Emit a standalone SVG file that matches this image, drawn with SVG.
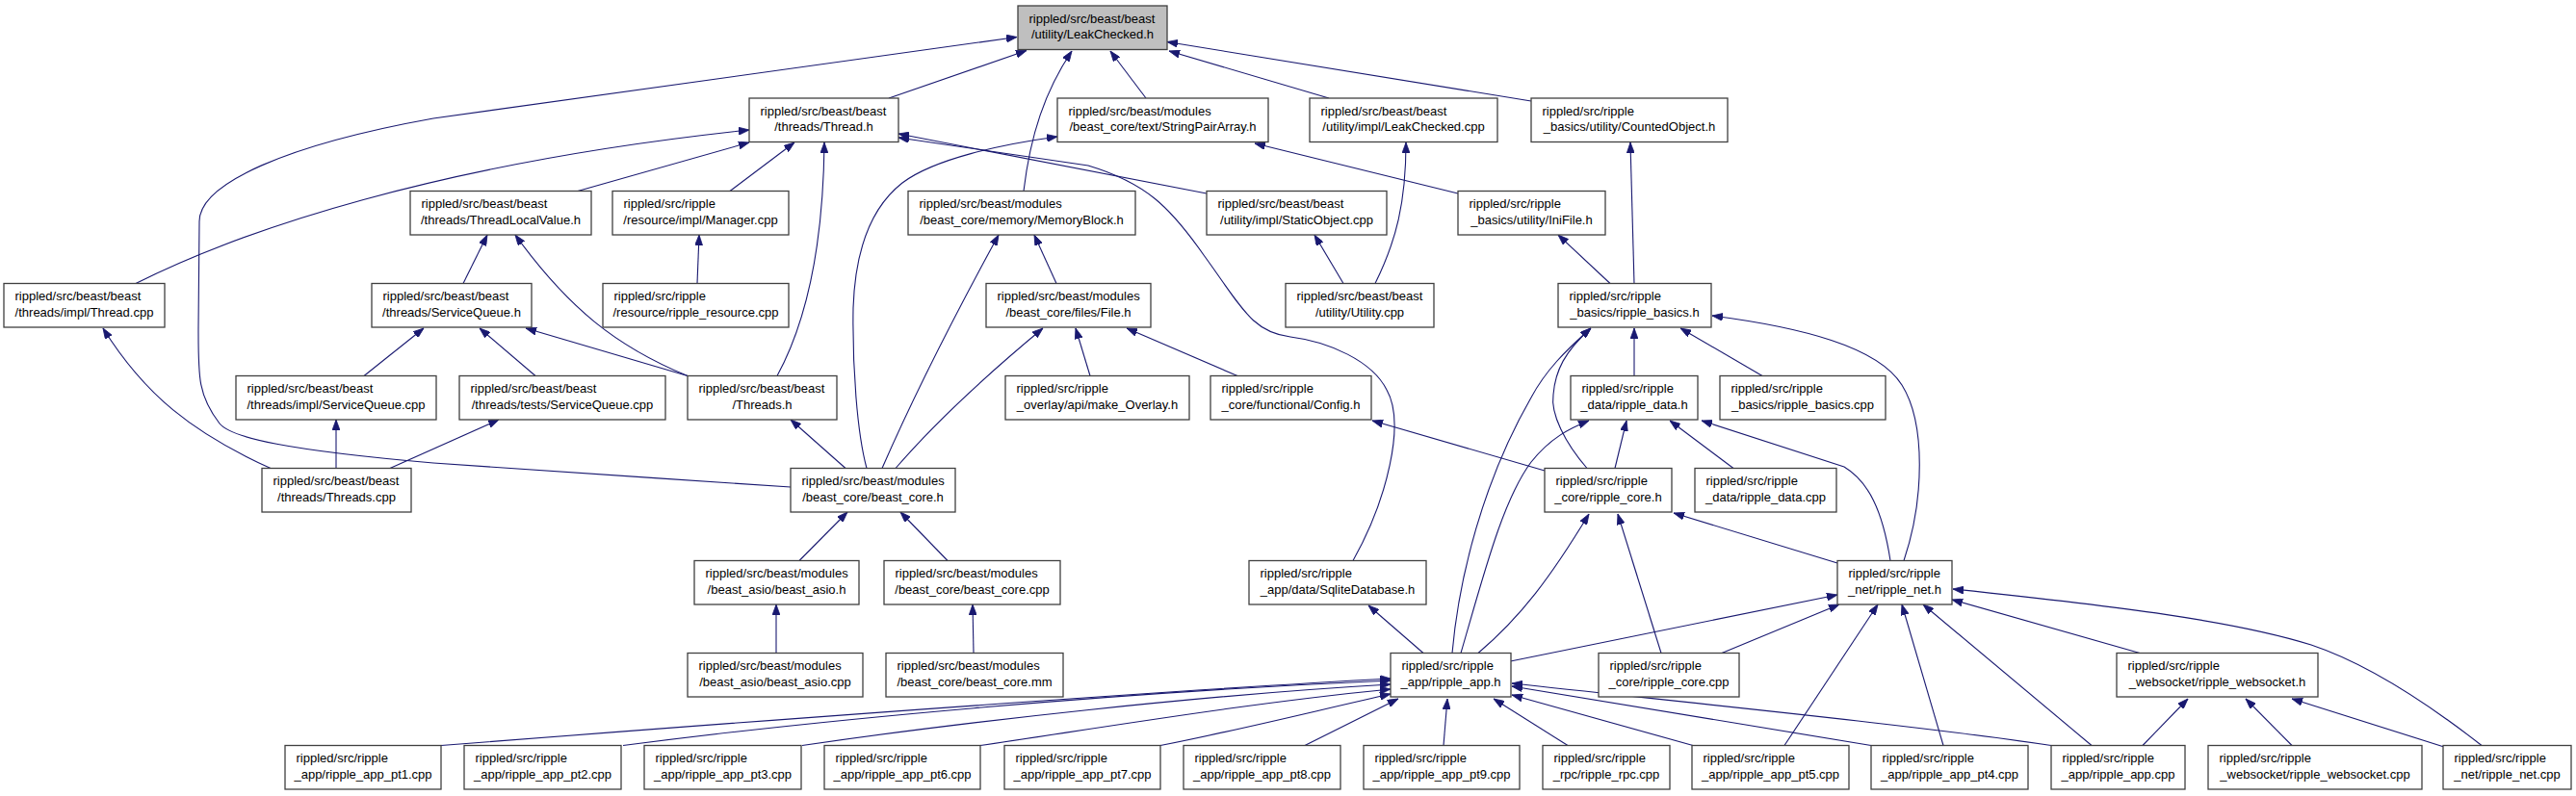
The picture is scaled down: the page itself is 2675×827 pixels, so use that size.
<svg xmlns="http://www.w3.org/2000/svg" width="2675" height="827" viewBox="0 0 2675 827">
<defs>
<style>
.node rect{fill:#ffffff;stroke:#404040;stroke-width:1.3}
.node.root rect{fill:#bfbfbf}
.node text{font-family:"Liberation Sans",Arial,sans-serif;font-size:13px;fill:#000000}
.node text.c{text-anchor:middle}
.edges path{fill:none;stroke:#191970;stroke-width:1.1;marker-end:url(#ah)}
</style>
<marker id="ah" viewBox="0 0 11 8" refX="11" refY="4" markerWidth="11" markerHeight="8" markerUnits="userSpaceOnUse" orient="auto">
<path d="M0,0 L11,4 L0,8 z" fill="#191970" stroke="#191970" stroke-width="0.8"/>
</marker>
</defs>
<rect width="2675" height="827" fill="#ffffff"/>
<g class="edges">
<path d="M923,102 L1066,52.5"/>
<path d="M821,506 C700,498 520,486 450,481 C300,468 240,455 228,440 C205,410 206,390 206,340 L207,230 C207,190 300,150 450,123 L1056,38.5"/>
<path d="M1063,198.5 C1070,140 1085,95 1113,53"/>
<path d="M1190,102 L1153,53"/>
<path d="M1380,102 L1214,53"/>
<path d="M1590,105 L1212,43.5"/>
<path d="M141,294.5 C250,240 450,170 778,135"/>
<path d="M600,198.5 L778,148"/>
<path d="M758,198.5 L825,148"/>
<path d="M807,390.5 C840,330 855,250 856,148"/>
<path d="M1253,201 L933,139"/>
<path d="M1405,582.5 C1440,520 1460,440 1440,405 C1425,375 1380,355 1340,350 C1300,345 1290,320 1250,265 C1215,215 1190,190 1130,172 L933,143"/>
<path d="M1514,201 L1303,149"/>
<path d="M900,486.5 C890,450 885,380 886,320 C888,260 905,215 937,190 C970,165 1040,150 1098,142"/>
<path d="M1428,294.5 C1450,250 1460,210 1460,148"/>
<path d="M1395,294.5 L1365,244"/>
<path d="M1672,294.5 L1618,244"/>
<path d="M1697,294.5 L1693,148"/>
<path d="M481,294.5 L506,244"/>
<path d="M714,390.5 C640,360 590,320 535,244"/>
<path d="M714,390.5 L546,341"/>
<path d="M556,390.5 L498,341"/>
<path d="M378,390.5 L440,341"/>
<path d="M724,294.5 L726,244"/>
<path d="M1097,294.5 L1074,244"/>
<path d="M916,486.5 C945,420 990,330 1037,244"/>
<path d="M930,486.5 C970,440 1030,385 1083,341"/>
<path d="M1132,390.5 L1117,341"/>
<path d="M1285,390.5 L1170,341"/>
<path d="M1604,489 L1425,437"/>
<path d="M1697,390.5 L1697,341"/>
<path d="M1830,390.5 L1745,341"/>
<path d="M1977,582.5 C1998,520 2000,440 1975,400 C1950,360 1870,340 1778,328"/>
<path d="M1648,486.5 C1625,460 1610,430 1613,410 C1615,385 1625,365 1652,341"/>
<path d="M1508,678.5 C1515,600 1540,500 1590,413 C1605,385 1625,365 1652,341"/>
<path d="M1517,678.5 C1540,600 1560,520 1590,480 C1610,455 1630,445 1650,437"/>
<path d="M1677,486.5 L1689,437"/>
<path d="M1800,486.5 L1734,437"/>
<path d="M1963,582.5 C1955,530 1940,500 1915,485 L1767,437"/>
<path d="M1478,678.5 L1421,629"/>
<path d="M1535,678.5 C1580,640 1610,600 1650,534"/>
<path d="M1725,678.5 L1680,534"/>
<path d="M1908,585 L1738,533"/>
<path d="M1568.5,687 L1908,618"/>
<path d="M1788,678.5 L1910,628"/>
<path d="M1853,774.5 L1950,628"/>
<path d="M2018,774.5 L1975,628"/>
<path d="M2172,774.5 L1997,628"/>
<path d="M2222,678.5 L2027,623"/>
<path d="M2577,774.5 C2520,730 2460,690 2400,670 C2320,645 2200,630 2028,612"/>
<path d="M2225,774.5 L2272,726"/>
<path d="M2380,774.5 L2332,726"/>
<path d="M2538,776 L2380,726"/>
<path d="M281,486.5 C200,450 150,410 107,341"/>
<path d="M349,486.5 L349,436"/>
<path d="M405,486.5 L518,436"/>
<path d="M878,486.5 L821,436"/>
<path d="M830,582.5 L880,532"/>
<path d="M984,582.5 L935,532"/>
<path d="M806,678.5 L806,628"/>
<path d="M1011,678.5 L1010,628"/>
<path d="M458,774.5 C800,748 1200,718 1444,705"/>
<path d="M647,774.5 C850,748 1150,720 1444,707"/>
<path d="M833,774.5 C1000,750 1250,722 1444,711"/>
<path d="M1018,774.5 C1150,755 1300,730 1444,716"/>
<path d="M1205,774.5 C1280,760 1360,740 1444,721"/>
<path d="M1355,774.5 L1452,726"/>
<path d="M1499,774.5 L1503,726"/>
<path d="M1628,774.5 L1551,726"/>
<path d="M1758,774.5 L1570,722"/>
<path d="M1943,774.5 L1570,713"/>
<path d="M2130,774.5 C2000,755 1800,735 1570,710"/>
</g>
<g id="n0" class="node root"><rect x="1057" y="6" width="155" height="45.5"/><text x="1068.5" y="23.5">rippled/src/beast/beast</text><text class="c" x="1134.5" y="40.3">/utility/LeakChecked.h</text></g>
<g id="n1" class="node"><rect x="778" y="102" width="155" height="45.5"/><text x="789.5" y="119.5">rippled/src/beast/beast</text><text class="c" x="855.5" y="136.3">/threads/Thread.h</text></g>
<g id="n2" class="node"><rect x="1098" y="102" width="219" height="45.5"/><text x="1109.5" y="119.5">rippled/src/beast/modules</text><text class="c" x="1207.5" y="136.3">/beast_core/text/StringPairArray.h</text></g>
<g id="n3" class="node"><rect x="1360" y="102" width="195" height="45.5"/><text x="1371.5" y="119.5">rippled/src/beast/beast</text><text class="c" x="1457.5" y="136.3">/utility/impl/LeakChecked.cpp</text></g>
<g id="n4" class="node"><rect x="1590" y="102" width="204" height="45.5"/><text x="1601.5" y="119.5">rippled/src/ripple</text><text class="c" x="1692" y="136.3">_basics/utility/CountedObject.h</text></g>
<g id="n5" class="node"><rect x="426" y="198.5" width="188" height="45.5"/><text x="437.5" y="216">rippled/src/beast/beast</text><text class="c" x="520" y="232.8">/threads/ThreadLocalValue.h</text></g>
<g id="n6" class="node"><rect x="636" y="198.5" width="183" height="45.5"/><text x="647.5" y="216">rippled/src/ripple</text><text class="c" x="727.5" y="232.8">/resource/impl/Manager.cpp</text></g>
<g id="n7" class="node"><rect x="943" y="198.5" width="236" height="45.5"/><text x="954.5" y="216">rippled/src/beast/modules</text><text class="c" x="1061" y="232.8">/beast_core/memory/MemoryBlock.h</text></g>
<g id="n8" class="node"><rect x="1253" y="198.5" width="187" height="45.5"/><text x="1264.5" y="216">rippled/src/beast/beast</text><text class="c" x="1346.5" y="232.8">/utility/impl/StaticObject.cpp</text></g>
<g id="n9" class="node"><rect x="1514" y="198.5" width="153" height="45.5"/><text x="1525.5" y="216">rippled/src/ripple</text><text class="c" x="1590.5" y="232.8">_basics/utility/IniFile.h</text></g>
<g id="n10" class="node"><rect x="4" y="294.5" width="167" height="45.5"/><text x="15.5" y="312">rippled/src/beast/beast</text><text class="c" x="87.5" y="328.8">/threads/impl/Thread.cpp</text></g>
<g id="n11" class="node"><rect x="386" y="294.5" width="166" height="45.5"/><text x="397.5" y="312">rippled/src/beast/beast</text><text class="c" x="469" y="328.8">/threads/ServiceQueue.h</text></g>
<g id="n12" class="node"><rect x="626" y="294.5" width="193" height="45.5"/><text x="637.5" y="312">rippled/src/ripple</text><text class="c" x="722.5" y="328.8">/resource/ripple_resource.cpp</text></g>
<g id="n13" class="node"><rect x="1024" y="294.5" width="171" height="45.5"/><text x="1035.5" y="312">rippled/src/beast/modules</text><text class="c" x="1109.5" y="328.8">/beast_core/files/File.h</text></g>
<g id="n14" class="node"><rect x="1335" y="294.5" width="154" height="45.5"/><text x="1346.5" y="312">rippled/src/beast/beast</text><text class="c" x="1412" y="328.8">/utility/Utility.cpp</text></g>
<g id="n15" class="node"><rect x="1618" y="294.5" width="159" height="45.5"/><text x="1629.5" y="312">rippled/src/ripple</text><text class="c" x="1697.5" y="328.8">_basics/ripple_basics.h</text></g>
<g id="n16" class="node"><rect x="245" y="390.5" width="208" height="45.5"/><text x="256.5" y="408">rippled/src/beast/beast</text><text class="c" x="349" y="424.8">/threads/impl/ServiceQueue.cpp</text></g>
<g id="n17" class="node"><rect x="477" y="390.5" width="214" height="45.5"/><text x="488.5" y="408">rippled/src/beast/beast</text><text class="c" x="584" y="424.8">/threads/tests/ServiceQueue.cpp</text></g>
<g id="n18" class="node"><rect x="714" y="390.5" width="155" height="45.5"/><text x="725.5" y="408">rippled/src/beast/beast</text><text class="c" x="791.5" y="424.8">/Threads.h</text></g>
<g id="n19" class="node"><rect x="1044" y="390.5" width="191" height="45.5"/><text x="1055.5" y="408">rippled/src/ripple</text><text class="c" x="1139.5" y="424.8">_overlay/api/make_Overlay.h</text></g>
<g id="n20" class="node"><rect x="1257" y="390.5" width="167" height="45.5"/><text x="1268.5" y="408">rippled/src/ripple</text><text class="c" x="1340.5" y="424.8">_core/functional/Config.h</text></g>
<g id="n21" class="node"><rect x="1631" y="390.5" width="132" height="45.5"/><text x="1642.5" y="408">rippled/src/ripple</text><text class="c" x="1697" y="424.8">_data/ripple_data.h</text></g>
<g id="n22" class="node"><rect x="1786" y="390.5" width="172" height="45.5"/><text x="1797.5" y="408">rippled/src/ripple</text><text class="c" x="1872" y="424.8">_basics/ripple_basics.cpp</text></g>
<g id="n23" class="node"><rect x="272" y="486.5" width="155" height="45.5"/><text x="283.5" y="504">rippled/src/beast/beast</text><text class="c" x="349.5" y="520.8">/threads/Threads.cpp</text></g>
<g id="n24" class="node"><rect x="821" y="486.5" width="171" height="45.5"/><text x="832.5" y="504">rippled/src/beast/modules</text><text class="c" x="906.5" y="520.8">/beast_core/beast_core.h</text></g>
<g id="n25" class="node"><rect x="1604" y="486.5" width="132" height="45.5"/><text x="1615.5" y="504">rippled/src/ripple</text><text class="c" x="1670" y="520.8">_core/ripple_core.h</text></g>
<g id="n26" class="node"><rect x="1760" y="486.5" width="147" height="45.5"/><text x="1771.5" y="504">rippled/src/ripple</text><text class="c" x="1833.5" y="520.8">_data/ripple_data.cpp</text></g>
<g id="n27" class="node"><rect x="721" y="582.5" width="171" height="45.5"/><text x="732.5" y="600">rippled/src/beast/modules</text><text class="c" x="806.5" y="616.8">/beast_asio/beast_asio.h</text></g>
<g id="n28" class="node"><rect x="918" y="582.5" width="183" height="45.5"/><text x="929.5" y="600">rippled/src/beast/modules</text><text class="c" x="1009.5" y="616.8">/beast_core/beast_core.cpp</text></g>
<g id="n29" class="node"><rect x="1297" y="582.5" width="184" height="45.5"/><text x="1308.5" y="600">rippled/src/ripple</text><text class="c" x="1389" y="616.8">_app/data/SqliteDatabase.h</text></g>
<g id="n30" class="node"><rect x="1908" y="582.5" width="119" height="45.5"/><text x="1919.5" y="600">rippled/src/ripple</text><text class="c" x="1967.5" y="616.8">_net/ripple_net.h</text></g>
<g id="n31" class="node"><rect x="714" y="678.5" width="182" height="45.5"/><text x="725.5" y="696">rippled/src/beast/modules</text><text class="c" x="805" y="712.8">/beast_asio/beast_asio.cpp</text></g>
<g id="n32" class="node"><rect x="920" y="678.5" width="184" height="45.5"/><text x="931.5" y="696">rippled/src/beast/modules</text><text class="c" x="1012" y="712.8">/beast_core/beast_core.mm</text></g>
<g id="n33" class="node"><rect x="1444" y="678.5" width="125" height="45.5"/><text x="1455.5" y="696">rippled/src/ripple</text><text class="c" x="1506.5" y="712.8">_app/ripple_app.h</text></g>
<g id="n34" class="node"><rect x="1660" y="678.5" width="146" height="45.5"/><text x="1671.5" y="696">rippled/src/ripple</text><text class="c" x="1733" y="712.8">_core/ripple_core.cpp</text></g>
<g id="n35" class="node"><rect x="2198" y="678.5" width="209" height="45.5"/><text x="2209.5" y="696">rippled/src/ripple</text><text class="c" x="2302.5" y="712.8">_websocket/ripple_websocket.h</text></g>
<g id="n36" class="node"><rect x="296" y="774.5" width="162" height="45.5"/><text x="307.5" y="792">rippled/src/ripple</text><text class="c" x="377" y="808.8">_app/ripple_app_pt1.cpp</text></g>
<g id="n37" class="node"><rect x="482" y="774.5" width="163" height="45.5"/><text x="493.5" y="792">rippled/src/ripple</text><text class="c" x="563.5" y="808.8">_app/ripple_app_pt2.cpp</text></g>
<g id="n38" class="node"><rect x="669" y="774.5" width="163" height="45.5"/><text x="680.5" y="792">rippled/src/ripple</text><text class="c" x="750.5" y="808.8">_app/ripple_app_pt3.cpp</text></g>
<g id="n39" class="node"><rect x="856" y="774.5" width="162" height="45.5"/><text x="867.5" y="792">rippled/src/ripple</text><text class="c" x="937" y="808.8">_app/ripple_app_pt6.cpp</text></g>
<g id="n40" class="node"><rect x="1043" y="774.5" width="162" height="45.5"/><text x="1054.5" y="792">rippled/src/ripple</text><text class="c" x="1124" y="808.8">_app/ripple_app_pt7.cpp</text></g>
<g id="n41" class="node"><rect x="1229" y="774.5" width="163" height="45.5"/><text x="1240.5" y="792">rippled/src/ripple</text><text class="c" x="1310.5" y="808.8">_app/ripple_app_pt8.cpp</text></g>
<g id="n42" class="node"><rect x="1416" y="774.5" width="162" height="45.5"/><text x="1427.5" y="792">rippled/src/ripple</text><text class="c" x="1497" y="808.8">_app/ripple_app_pt9.cpp</text></g>
<g id="n43" class="node"><rect x="1602" y="774.5" width="132" height="45.5"/><text x="1613.5" y="792">rippled/src/ripple</text><text class="c" x="1668" y="808.8">_rpc/ripple_rpc.cpp</text></g>
<g id="n44" class="node"><rect x="1757" y="774.5" width="163" height="45.5"/><text x="1768.5" y="792">rippled/src/ripple</text><text class="c" x="1838.5" y="808.8">_app/ripple_app_pt5.cpp</text></g>
<g id="n45" class="node"><rect x="1943" y="774.5" width="163" height="45.5"/><text x="1954.5" y="792">rippled/src/ripple</text><text class="c" x="2024.5" y="808.8">_app/ripple_app_pt4.cpp</text></g>
<g id="n46" class="node"><rect x="2130" y="774.5" width="139" height="45.5"/><text x="2141.5" y="792">rippled/src/ripple</text><text class="c" x="2199.5" y="808.8">_app/ripple_app.cpp</text></g>
<g id="n47" class="node"><rect x="2293" y="774.5" width="222" height="45.5"/><text x="2304.5" y="792">rippled/src/ripple</text><text class="c" x="2404" y="808.8">_websocket/ripple_websocket.cpp</text></g>
<g id="n48" class="node"><rect x="2537" y="774.5" width="133" height="45.5"/><text x="2548.5" y="792">rippled/src/ripple</text><text class="c" x="2603.5" y="808.8">_net/ripple_net.cpp</text></g>
</svg>
